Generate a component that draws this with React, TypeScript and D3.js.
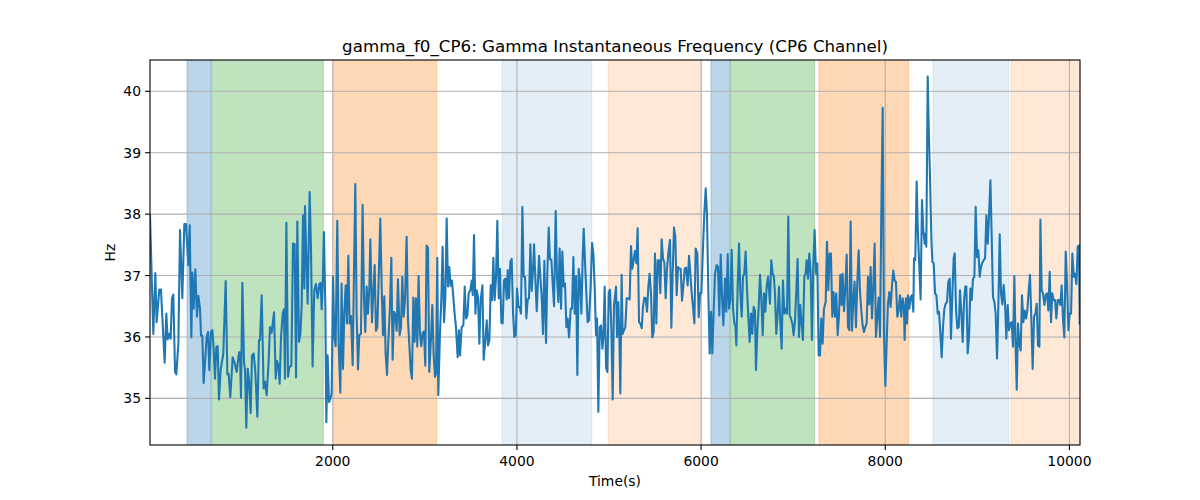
import React from 'react';
import * as d3 from 'd3';

const samples: [number, number][] = [
  [15,37.98],[51,36.05],[73,37.04],[87,36.24],[116,36.77],[134,36.77],[174,35.58],[192,36.38],[207,35.96],[225,36.05],[239,35.97],[254,36.63],[268,36.69],[287,35.43],[301,35.39],[323,35.89],[341,37.74],[366,36.63],[388,37.84],[406,37.84],[431,37.17],[446,37.82],[464,35.99],[475,37.05],[489,36.46],[507,37.10],[525,36.33],[540,36.67],[558,36.46],[569,36.02],[583,36.02],[598,35.25],[616,35.67],[630,35.99],[645,36.08],[659,35.46],[677,36.08],[692,36.11],[703,35.89],[721,35.32],[735,35.83],[750,35.85],[764,34.98],[782,35.46],[811,35.73],[837,36.91],[855,35.39],[869,35.40],[887,35.02],[913,35.67],[931,35.59],[956,35.43],[982,35.75],[992,35.75],[1003,35.01],[1018,36.88],[1036,35.59],[1047,35.46],[1061,34.52],[1076,35.48],[1090,35.29],[1108,34.76],[1123,35.70],[1141,35.73],[1159,35.43],[1181,34.70],[1199,35.95],[1210,35.95],[1228,36.68],[1249,35.16],[1264,35.27],[1282,35.05],[1304,35.62],[1318,36.16],[1336,36.07],[1362,36.40],[1380,35.32],[1394,35.61],[1409,35.54],[1423,35.24],[1438,36.00],[1456,36.38],[1470,36.45],[1481,35.32],[1496,37.86],[1514,35.35],[1528,35.51],[1550,35.53],[1568,37.52],[1586,37.51],[1601,35.34],[1615,37.88],[1633,35.92],[1648,36.05],[1662,36.49],[1677,37.98],[1691,36.79],
  [1698,38.13],[1727,36.54],[1749,38.36],[1763,37.47],[1781,35.52],[1799,36.76],[1817,36.86],[1836,36.63],[1854,36.86],[1868,36.88],[1879,36.45],[1890,36.82],[1904,37.71],[1919,36.49],[1930,34.61],[1944,35.70],[1959,34.94],[1973,34.99],[1988,35.08],[2002,36.98],[2017,36.00],[2031,35.85],[2049,37.89],[2064,35.86],[2082,35.09],[2096,36.87],[2111,35.48],[2125,36.38],[2140,36.84],[2154,36.22],[2169,37.32],[2183,36.22],[2198,36.34],[2216,35.54],[2230,37.03],[2245,38.49],[2259,36.37],[2274,35.47],[2288,36.03],[2306,36.05],[2324,38.15],[2339,36.63],[2353,36.08],[2368,36.82],[2382,36.38],[2397,36.79],[2408,37.59],[2426,36.24],[2440,36.71],[2455,37.17],[2469,36.10],[2484,36.16],[2498,36.92],[2516,37.93],[2531,36.82],[2545,36.03],[2560,36.66],[2574,35.73],[2589,35.38],[2603,35.92],[2621,36.48],[2636,37.29],[2650,35.63],[2665,36.41],[2679,36.37],[2694,36.10],[2708,36.94],[2726,36.03],[2741,36.16],[2755,36.98],[2770,36.33],[2784,36.59],[2802,37.63],[2817,36.27],[2831,35.88],[2846,35.46],[2860,35.32],[2875,36.64],[2889,35.92],[2903,36.63],[2918,35.84],[2932,36.99],[2947,36.05],[2961,35.85],[2976,36.07],[2990,36.09],[3005,35.53],[3019,37.49],[3034,37.45],[3048,35.43],[3066,35.96],[3081,36.52],[3095,35.73],[3110,35.35],[3121,35.40],[3135,37.29],[3146,35.05],[3164,36.05],[3179,36.63],[3193,37.47],[3208,36.24],[3222,36.64],[3237,37.93],[3251,36.82],[3265,37.14],[3280,36.83],[3294,36.92],[3309,36.65],[3323,36.38],[3338,36.16],[3356,35.67],[3370,36.11],
  [3382,35.70],[3400,36.16],[3418,36.19],[3433,36.82],[3447,36.30],[3462,36.35],[3476,36.71],[3494,36.76],[3509,36.92],[3520,36.68],[3534,37.66],[3549,36.38],[3563,36.76],[3577,36.65],[3592,35.89],[3606,36.60],[3625,36.84],[3639,35.63],[3654,35.89],[3672,36.27],[3686,35.86],[3701,35.95],[3715,36.84],[3730,36.60],[3744,37.29],[3758,36.60],[3773,36.98],[3787,37.89],[3802,36.63],[3816,37.11],[3831,36.23],[3845,36.22],[3860,36.92],[3874,36.95],[3889,36.61],[3900,37.09],[3914,36.63],[3929,37.23],[3943,37.27],[3958,36.38],[3972,36.00],[3987,36.03],[4001,36.79],[4016,36.49],[4030,36.49],[4044,36.38],[4059,38.12],[4073,36.98],[4088,36.98],[4102,36.30],[4117,36.61],[4131,36.63],[4146,37.51],[4160,36.75],[4175,37.11],[4186,37.51],[4200,36.95],[4215,36.42],[4229,36.92],[4240,37.32],[4254,36.98],[4269,36.65],[4283,36.05],[4298,37.24],[4316,35.90],[4330,37.03],[4345,37.78],[4359,37.26],[4374,37.26],[4388,36.87],[4403,36.50],[4421,38.05],[4435,36.98],[4450,36.57],[4464,37.44],[4479,36.46],[4493,37.39],[4508,36.82],[4522,36.87],[4537,36.16],[4551,36.30],[4566,35.99],[4584,36.46],[4598,36.46],[4613,37.30],[4627,36.38],[4642,36.99],[4656,35.38],[4671,37.11],[4685,36.90],[4700,36.38],[4714,37.30],[4725,37.76],[4740,37.20],[4754,36.71],[4768,36.24],[4783,36.27],[4801,36.84],[4816,37.53],[4830,37.36],[4844,36.82],[4859,36.03],[4870,36.30],[4884,34.78],[4899,36.16],[4913,36.19],[4928,35.81],[4939,36.00],[4953,36.82],[4968,35.50],[4982,35.43],[4997,36.73],[5011,36.77],[5025,36.16],[5040,34.98],[5054,36.52],
  [5076,36.82],[5087,36.00],[5101,36.57],[5112,36.00],[5123,35.08],[5137,37.01],[5148,36.05],[5163,36.11],[5177,36.16],[5192,36.63],[5210,36.63],[5224,36.61],[5239,37.48],[5253,37.11],[5268,37.25],[5282,37.40],[5297,37.20],[5311,37.77],[5326,36.24],[5340,36.22],[5355,36.14],[5369,36.49],[5384,36.64],[5398,36.63],[5413,36.41],[5427,36.82],[5441,37.03],[5456,36.71],[5470,35.99],[5485,36.08],[5499,37.36],[5514,36.22],[5528,37.25],[5543,37.25],[5557,36.71],[5572,37.59],[5586,37.28],[5601,37.21],[5615,36.63],[5630,37.11],[5644,37.36],[5662,37.58],[5677,36.15],[5691,37.03],[5706,37.78],[5720,37.63],[5735,36.68],[5749,37.14],[5764,37.11],[5778,37.11],[5793,36.59],[5807,36.82],[5822,37.11],[5836,37.13],[5854,36.84],[5869,37.32],[5883,37.03],[5898,36.71],[5912,36.49],[5927,36.22],[5941,37.44],[5959,37.36],[5974,36.32],[5988,36.71],[6003,36.71],[6021,37.47],[6035,38.01],[6050,38.42],[6064,38.00],[6079,36.71],[6093,35.73],[6108,36.41],[6122,35.73],[6137,36.45],[6151,37.03],[6169,37.17],[6184,37.14],[6198,36.35],[6213,37.34],[6227,36.68],[6242,36.19],[6260,36.95],[6274,36.41],[6289,37.35],[6303,36.46],[6318,36.60],[6332,37.42],[6347,36.46],[6361,36.22],[6372,36.19],[6383,35.86],[6397,36.82],[6412,37.52],[6426,36.73],[6441,36.33],[6455,36.98],[6469,37.03],[6484,37.39],[6498,36.79],[6513,36.33],[6527,35.92],[6542,36.38],[6556,36.05],[6571,36.49],[6585,36.43],[6596,35.46],[6611,36.11],[6625,36.46],[6640,37.01],[6654,36.63],[6669,36.03],[6683,36.71],[6698,36.41],[6712,36.82],[6727,36.98],
  [6748,36.54],[6762,37.25],[6777,37.03],[6791,36.98],[6802,36.71],[6817,36.05],[6831,36.38],[6846,36.82],[6860,36.22],[6875,35.81],[6889,36.92],[6904,36.38],[6918,36.46],[6933,36.38],[6947,37.96],[6962,36.35],[6976,36.30],[6991,36.22],[7005,36.03],[7020,36.27],[7034,36.76],[7048,37.27],[7063,36.00],[7077,36.52],[7092,36.22],[7106,35.95],[7121,36.98],[7135,37.03],[7146,37.25],[7161,36.95],[7175,37.36],[7190,37.03],[7204,35.95],[7219,37.20],[7233,37.74],[7248,37.03],[7262,37.20],[7277,35.70],[7291,35.70],[7305,36.30],[7320,35.89],[7334,36.46],[7353,36.57],[7367,37.55],[7382,36.76],[7396,37.36],[7410,37.36],[7425,36.33],[7439,36.73],[7454,36.33],[7468,36.71],[7483,36.03],[7497,36.33],[7512,37.01],[7526,36.52],[7537,37.03],[7552,36.42],[7566,36.79],[7581,37.34],[7595,36.16],[7610,36.11],[7624,37.88],[7639,36.10],[7653,36.60],[7667,36.90],[7682,36.16],[7696,36.87],[7711,37.41],[7725,36.76],[7740,36.43],[7754,36.19],[7769,36.08],[7783,36.16],[7798,36.22],[7812,36.98],[7827,36.53],[7841,37.14],[7856,36.30],[7870,36.80],[7885,37.52],[7899,36.00],[7914,36.33],[7928,36.64],[7943,36.00],[7957,38.00],[7972,39.73],[7986,36.05],[8001,35.20],[8015,35.89],[8029,36.54],[8044,36.73],[8058,36.49],[8073,36.82],[8087,37.08],[8102,36.92],[8116,36.90],[8131,36.33],[8145,36.43],[8160,36.68],[8174,36.33],[8189,36.63],[8203,36.49],[8210,35.95],[8225,36.63],[8236,36.22],[8247,36.68],[8261,36.46],[8276,36.65],[8290,36.68],[8305,36.41],[8312,37.28],[8326,37.25],[8341,38.53],[8355,37.68],[8370,37.14],[8384,36.61],[8399,38.23],[8413,37.74],[8428,37.52],
  [8432,37.68],[8446,37.47],[8461,40.24],[8472,39.42],[8486,38.61],[8501,37.58],[8512,37.22],[8526,37.20],[8541,36.71],[8555,36.68],[8570,36.38],[8584,36.41],[8599,36.05],[8613,35.67],[8627,36.16],[8642,36.46],[8656,36.54],[8671,36.57],[8685,36.90],[8700,36.95],[8714,35.97],[8729,36.71],[8743,37.28],[8754,37.36],[8769,36.43],[8783,36.14],[8798,36.16],[8812,36.76],[8827,36.38],[8841,35.92],[8856,36.60],[8870,36.82],[8881,36.82],[8895,35.73],[8910,36.00],[8924,36.79],[8939,36.60],[8953,36.95],[8968,36.98],[8982,38.12],[8997,37.30],[9011,37.41],[9026,36.98],[9040,37.14],[9055,37.21],[9069,37.25],[9084,37.28],[9098,37.98],[9113,37.52],[9127,37.98],[9142,38.55],[9156,37.63],[9170,36.65],[9185,36.57],[9199,36.38],[9214,35.65],[9228,36.49],[9243,37.67],[9257,36.71],[9272,36.53],[9286,36.85],[9301,36.54],[9315,35.97],[9330,36.52],[9344,36.11],[9359,36.22],[9373,36.24],[9388,35.84],[9402,36.99],[9417,35.78],[9428,35.14],[9442,36.22],[9456,35.89],[9471,35.78],[9485,36.68],[9500,36.24],[9514,36.43],[9529,36.30],[9543,36.43],[9558,36.76],[9572,37.01],[9587,36.27],[9601,35.48],[9616,36.33],[9630,36.38],[9645,36.54],[9659,35.86],[9674,35.84],[9685,37.91],[9699,36.76],[9713,36.71],[9728,36.52],[9742,36.68],[9757,36.71],[9771,36.43],[9786,37.06],[9800,36.24],[9815,36.71],[9829,36.60],[9844,36.60],[9858,36.30],[9873,36.60],[9887,36.60],[9902,36.52],[9916,36.84],[9931,36.27],[9945,35.99],[9960,37.39],[9974,36.90],[9989,36.11],[10003,36.38],[10018,36.38],[10032,37.36],[10047,36.98],[10061,37.03],[10076,36.86],[10090,37.47],[10104,37.49],[10112,36.22]
];

const phaseStart = [417, 685, 2010, 3838, 4992, 6107, 6321, 7280, 8518, 9365];
const phaseEnd = [677, 1897, 3128, 4812, 6006, 6314, 7233, 8254, 9343, 10200];
const phaseKind = ['blueStrong', 'green', 'orange', 'blueLight', 'orangeLight', 'blueStrong', 'green', 'orange', 'blueLight', 'orangeLight'];

const xTicks = [2000, 4000, 6000, 8000, 10000];
const yTicks = [35, 36, 37, 38, 39, 40];
const xLimits = [15, 10115];
const yLimits = [34.24, 40.51];

const titleText = 'gamma_f0_CP6: Gamma Instantaneous Frequency (CP6 Channel)';
const xLabelText = 'Time(s)';
const yLabelText = 'Hz';

const kindStyle: Record<string, { color: string; opacity: number }> = {
  blueStrong: { color: '#1f77b4', opacity: 0.3 },
  green: { color: '#2ca02c', opacity: 0.3 },
  orange: { color: '#ff7f0e', opacity: 0.3 },
  blueLight: { color: '#1f77b4', opacity: 0.12 },
  orangeLight: { color: '#ff7f0e', opacity: 0.17 },
};

export default function App() {
  const W = 1200, H = 500;
  const L = 150, R = 1080, T = 60, B = 445;
  const x = d3.scaleLinear().domain(xLimits).range([L, R]);
  const y = d3.scaleLinear().domain(yLimits).range([B, T]);
  const line = d3.line<[number, number]>().x(d => x(d[0])).y(d => y(d[1]));
  const font = '"DejaVu Sans", sans-serif';

  return (
    <div style={{ position: 'fixed', left: 0, top: 0 }}>
      <svg width={W} height={H} viewBox={`0 0 ${W} ${H}`} style={{ display: 'block', background: '#fff' }}>
        <defs>
          <clipPath id="plotClip">
            <rect x={L} y={T} width={R - L} height={B - T} />
          </clipPath>
        </defs>
        <rect x={0} y={0} width={W} height={H} fill="#fff" />
        <g clipPath="url(#plotClip)">
          {phaseStart.map((s, i) => {
            const st = kindStyle[phaseKind[i]];
            return (
              <rect key={i} x={x(s)} y={T - 2} width={x(phaseEnd[i]) - x(s)} height={B - T + 4}
                fill={st.color} fillOpacity={st.opacity} stroke={st.color} strokeOpacity={st.opacity} strokeWidth={1} />
            );
          })}
          {xTicks.map(t => (
            <line key={'gx' + t} x1={x(t)} x2={x(t)} y1={T} y2={B} stroke="#b0b0b0" strokeWidth={1.1} />
          ))}
          {yTicks.map(t => (
            <line key={'gy' + t} x1={L} x2={R} y1={y(t)} y2={y(t)} stroke="#b0b0b0" strokeWidth={1.1} />
          ))}
          <path d={line(samples) || ''} fill="none" stroke="#1f77b4" strokeWidth={2.08} strokeLinejoin="round" strokeLinecap="square" />
        </g>
        <rect x={L} y={T} width={R - L} height={B - T} fill="none" stroke="#000" strokeWidth={1.1} />
        {xTicks.map(t => (
          <g key={'tx' + t}>
            <line x1={x(t)} x2={x(t)} y1={B} y2={B + 4.9} stroke="#000" strokeWidth={1.1} />
            <text x={x(t)} y={B + 21} textAnchor="middle" fontFamily={font} fontSize={13.9} fill="#000">{t}</text>
          </g>
        ))}
        {yTicks.map(t => (
          <g key={'ty' + t}>
            <line x1={L - 4.9} x2={L} y1={y(t)} y2={y(t)} stroke="#000" strokeWidth={1.1} />
            <text x={L - 9} y={y(t)} dy="0.36em" textAnchor="end" fontFamily={font} fontSize={13.9} fill="#000">{t}</text>
          </g>
        ))}
        <text x={(L + R) / 2} y={T - 8.5} textAnchor="middle" fontFamily={font} fontSize={16.7} fill="#000">{titleText}</text>
        <text x={(L + R) / 2} y={486} textAnchor="middle" fontFamily={font} fontSize={13.9} fill="#000">{xLabelText}</text>
        <text transform={`translate(115, ${(T + B) / 2}) rotate(-90)`} textAnchor="middle" fontFamily={font} fontSize={13.9} fill="#000">{yLabelText}</text>
      </svg>
    </div>
  );
}
